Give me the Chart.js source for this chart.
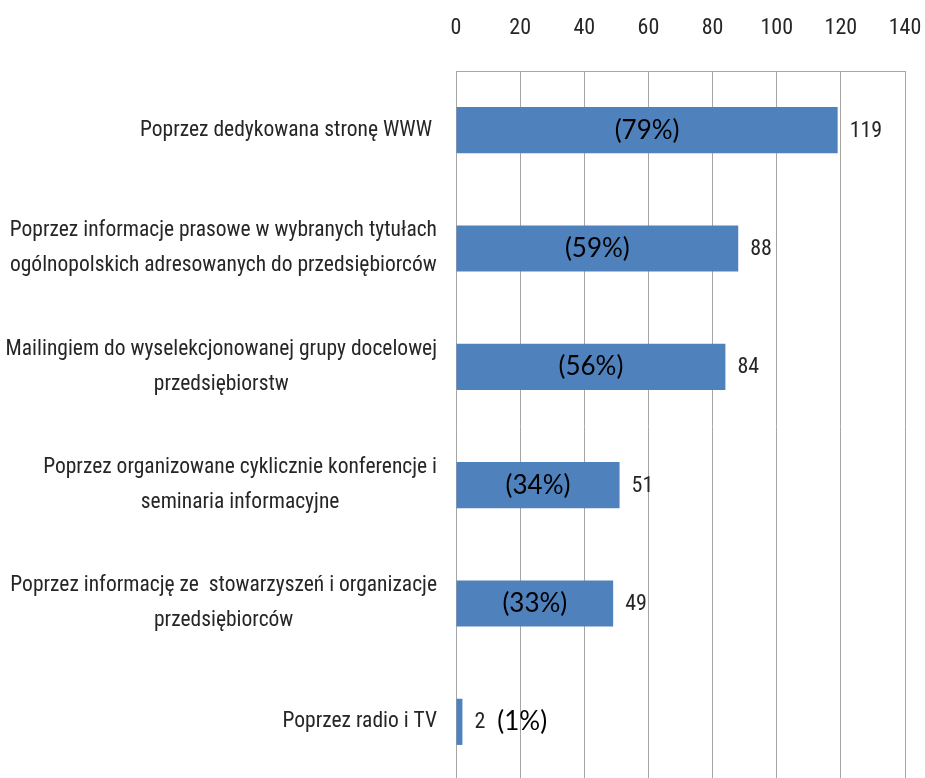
<!DOCTYPE html>
<html><head><meta charset="utf-8">
<script src="https://cdn.jsdelivr.net/npm/chart.js@4.4.1/dist/chart.umd.min.js"></script>
<style>
  html, body { margin: 0; padding: 0; background: #fff; overflow: hidden; }
  #wrap { position: relative; width: 925px; height: 790px; }
</style>
</head>
<body>
<div id="wrap"><canvas id="chart"></canvas></div>
<script>
// Channels through which the information reached respondents (counts, N = 150)
const categories = [
  ['Poprzez dedykowana stronę WWW '],
  ['Poprzez informacje prasowe w wybranych tytułach', 'ogólnopolskich adresowanych do przedsiębiorców'],
  ['Mailingiem do wyselekcjonowanej grupy docelowej', 'przedsiębiorstw'],
  ['Poprzez organizowane cyklicznie konferencje i', 'seminaria informacyjne'],
  ['Poprzez informację ze  stowarzyszeń i organizacje', 'przedsiębiorców'],
  ['Poprzez radio i TV']
];
const counts = [119, 88, 84, 51, 49, 2];
const shares = [79, 59, 56, 34, 33, 1];
const xTicks = [0, 20, 40, 60, 80, 100, 120, 140];

const BAR_BLUE = '#4F81BD';
const GRID = '#a6a6a6';
const TEXT = '#262626';
const LABEL_FONT = '"Roboto Condensed", "Liberation Sans", sans-serif';
const SHARE_FONT = 'Lato, "Open Sans", sans-serif';

// Category names: right-aligned blocks whose lines are centred on each other
const categoryLabels = {
  id: 'categoryLabels',
  afterDraw(chart) {
    const ctx = chart.ctx;
    const y = chart.scales.y;
    const right = y.right - 19;
    const lineH = 35;
    ctx.save();
    ctx.font = '21.5px ' + LABEL_FONT;
    ctx.fillStyle = TEXT;
    ctx.textAlign = 'center';
    ctx.textBaseline = 'middle';
    categories.forEach((lines, i) => {
      const cy = y.getPixelForValue(i);
      const w = Math.max(...lines.map(l => ctx.measureText(l).width));
      const cx = right - w / 2;
      lines.forEach((l, k) => {
        const ly = cy + (k - (lines.length - 1) / 2) * lineH;
        ctx.fillText(l, cx, ly);
      });
    });
    ctx.restore();
  }
};

// Count next to each bar, share in the bar (or after the count when the bar is too short)
const barLabels = {
  id: 'barLabels',
  afterDatasetsDraw(chart) {
    const ctx = chart.ctx;
    const meta = chart.getDatasetMeta(0);
    ctx.save();
    ctx.textBaseline = 'middle';
    meta.data.forEach((bar, i) => {
      const endX = bar.x;
      const startX = bar.base;
      const cy = bar.y;
      ctx.font = '22px ' + LABEL_FONT;
      ctx.fillStyle = TEXT;
      ctx.textAlign = 'left';
      const countText = String(counts[i]);
      ctx.fillText(countText, endX + 12, cy + 1);
      const countW = ctx.measureText(countText).width;

      const shareText = '(' + shares[i] + '%)';
      ctx.font = '26px ' + SHARE_FONT;
      ctx.fillStyle = '#000';
      const sw = ctx.measureText(shareText).width;
      if (endX - startX > sw + 10) {
        ctx.textAlign = 'center';
        ctx.fillText(shareText, (startX + endX) / 2, cy);
      } else {
        ctx.textAlign = 'left';
        ctx.fillText(shareText, endX + 12 + countW + 12, cy);
      }
    });
    ctx.restore();
  }
};

new Chart(document.getElementById('chart'), {
  type: 'bar',
  data: {
    labels: categories,
    datasets: [{
      data: counts,
      backgroundColor: BAR_BLUE,
      borderWidth: 0,
      barPercentage: 0.39,
      categoryPercentage: 1.0
    }]
  },
  options: {
    indexAxis: 'y',
    responsive: true,
    maintainAspectRatio: false,
    animation: false,
    layout: { padding: { left: 0, right: 20, top: 0, bottom: 9 } },
    plugins: { legend: { display: false }, tooltip: { enabled: false } },
    scales: {
      x: {
        position: 'top',
        min: 0,
        max: 140,
        afterBuildTicks(scale) { scale.ticks = xTicks.map(v => ({ value: v })); },
        afterFit(scale) {
          scale.height = 71;
          scale.paddingLeft = 0;
          scale.paddingRight = 0;
        },
        grid: { color: GRID, lineWidth: 1, drawTicks: false },
        border: { color: GRID, width: 1 },
        ticks: {
          padding: 29,
          color: TEXT,
          font: { family: LABEL_FONT, size: 22 }
        }
      },
      y: {
        afterFit(scale) { scale.width = 456; },
        grid: { display: false, drawTicks: false },
        border: { color: GRID, width: 1 },
        ticks: { display: false }
      }
    }
  },
  plugins: [categoryLabels, barLabels]
});
</script>
</body></html>
